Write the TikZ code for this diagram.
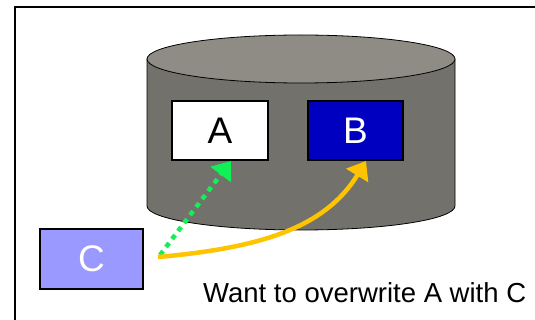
\documentclass[tikz,border=0pt]{standalone}
\usepackage{fontspec}
\setmainfont{Liberation Sans}
\usetikzlibrary{arrows.meta}

\definecolor{cyltop}{HTML}{8F8C86}
\definecolor{cylbody}{HTML}{73716B}
\definecolor{bluebox}{HTML}{0000C0}
\definecolor{lilac}{HTML}{9999FF}
\definecolor{brightgreen}{HTML}{11F055}
\definecolor{amber}{HTML}{FFC400}

\tikzset{
  blockbox/.style={draw=black, line width=2pt, minimum width=#1, minimum height=59pt,
    inner sep=0pt, font=\fontsize{37}{40}\selectfont},
  bigtip/.style={-{Triangle[length=17pt,width=25pt]}},
}

\begin{document}
\begin{tikzpicture}[x=1pt,y=1pt]
  \useasboundingbox (0,0) rectangle (535,-320);

  % frame that runs off the right and bottom edges
  \draw[line width=2pt] (14.5,-340) -- (14.5,-7) -- (560,-7);

  % storage cylinder
  \fill[cylbody] (147,-59) -- (147,-206) arc[start angle=180, end angle=360, x radius=154, y radius=24]
    -- (455,-59) -- cycle;
  \draw[line width=0.8pt] (147,-59) -- (147,-206) arc[start angle=180, end angle=360, x radius=154, y radius=24]
    -- (455,-59);
  \draw[line width=0.8pt, fill=cyltop] (301,-59) ellipse[x radius=154, y radius=24];

  % data blocks
  \node[blockbox=96pt, fill=white, text=black] (A) at (220,-130.5) {A};
  \node[blockbox=95pt, fill=bluebox, text=white] (B) at (355.5,-130.5) {B};
  \node[blockbox=103pt, minimum height=60pt, fill=lilac, text=white] (C) at (91.5,-259) {C};

  % arrow origins next to C
  \coordinate (gstart) at (160,-255);
  \coordinate (ystart) at (158,-257);

  % dotted green: the intended write to A
  \draw[brightgreen, line width=4.5pt, dash pattern=on 5pt off 5pt, bigtip]
    (gstart) -- ([xshift=11pt]A.south);

  % amber: the write that lands on B
  \draw[amber, line width=4.5pt, bigtip]
    (ystart) .. controls (260,-248) and (325,-228) .. ([xshift=10.5pt]B.south);

  \node[anchor=base west, inner sep=0pt, font=\fontsize{27.5}{30}\selectfont] (note)
    at (203,-302) {Want to overwrite A with C};
\end{tikzpicture}
\end{document}
